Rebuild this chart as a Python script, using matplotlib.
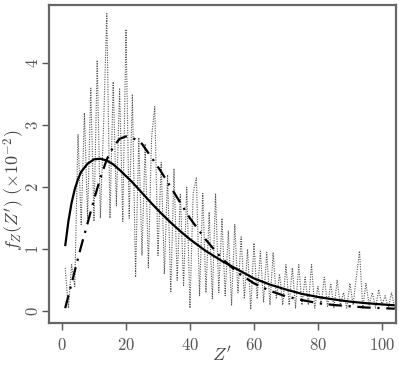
import matplotlib
matplotlib.use("Agg")
import matplotlib.pyplot as plt
from matplotlib.ticker import FuncFormatter

plt.rcParams['mathtext.fontset'] = 'cm'
plt.rcParams['font.family'] = ['DejaVu Serif']

# Empirical (noisy) distribution
emp_z = list(range(1, 105))
emp_f = [0.7, 0.05, 0.75, 0.4, 2.85, 1.4, 3.2, 1.5, 3.6, 1.45,
         4.05, 1.5, 3.0, 4.8, 1.5, 3.7, 1.7, 3.6, 1.45, 4.55,
         1.5, 3.5, 0.55, 2.8, 0.9, 2.7, 0.7, 2.8, 3.3, 0.9,
         2.4, 0.6, 2.2, 0.3, 2.3, 0.5, 1.9, 0.4, 2.0, 0.05,
         1.9, 2.15, 0.25, 1.9, 0.3, 1.6, 0.2, 1.9, 0.3, 1.5,
         0.25, 1.3, 0.1, 1.4, 0.3, 1.2, 0.2, 1.0, 0.03, 1.1,
         0.2, 0.97, 0.15, 0.95, 0.1, 0.95, 0.2, 0.6, 0.1, 0.75,
         0.1, 0.7, 0.05, 0.75, 0.1, 0.55, 0.1, 0.75, 0.05, 0.4,
         0.1, 0.55, 0.08, 0.45, 0.05, 0.5, 0.1, 0.3, 0.05, 0.45,
         0.1, 0.55, 0.97, 0.05, 0.45, 0.1, 0.3, 0.05, 0.35, 0.1,
         0.25, 0.05, 0.3, 0.05]

# Fitted curves
fit_z = [1, 2, 3, 4, 5, 6, 8, 10, 12, 14, 16, 18, 20, 22, 25, 28, 31, 34, 37, 40,
         45, 50, 55, 60, 65, 70, 75, 80, 85, 90, 95, 100, 104]
fit_solid = [1.05, 1.45, 1.75, 1.97, 2.13, 2.25, 2.38, 2.45, 2.46, 2.43, 2.37, 2.28,
             2.18, 2.08, 1.91, 1.74, 1.58, 1.43, 1.29, 1.16, 0.97, 0.81, 0.67, 0.53,
             0.43, 0.35, 0.28, 0.23, 0.19, 0.155, 0.13, 0.11, 0.095]
fit_dashdot = [0.05, 0.25, 0.45, 0.65, 0.85, 1.05, 1.42, 1.8, 2.15, 2.45, 2.65, 2.78,
               2.82, 2.8, 2.7, 2.48, 2.25, 2.0, 1.75, 1.5, 1.15, 0.85, 0.62, 0.45,
               0.33, 0.24, 0.18, 0.13, 0.1, 0.08, 0.06, 0.05, 0.04]

xticks = [0, 20, 40, 60, 80, 100]
yticks = [0, 1, 2, 3, 4]

fig = plt.figure(figsize=(3.99, 3.65), dpi=100)
ax = fig.add_axes([49/399, 1-323/365, (396-49)/399, (323-5)/365])

ax.plot(emp_z, emp_f, color='#555555', lw=0.8, linestyle=(0, (1, 1.2)))
ax.plot(fit_z, fit_solid, color='black', lw=1.6, solid_capstyle='butt')
ax.plot(fit_z, fit_dashdot, color='black', lw=1.6, linestyle=(0, (6, 3, 1, 3)))

ax.set_xlim(-4.06, 104.4)
ax.set_ylim(-0.19, 4.94)
ax.set_xticks(xticks)
ax.set_yticks(yticks)
fmt = FuncFormatter(lambda v, p: r'$%d$' % v)
ax.xaxis.set_major_formatter(fmt)
ax.yaxis.set_major_formatter(fmt)
ax.tick_params(direction='out', length=5, width=1, color='#555555',
               labelcolor='#555555', labelsize=12)
ax.tick_params(axis='x', pad=5)
ax.tick_params(axis='y', pad=0)
for lab in ax.get_yticklabels():
    lab.set_rotation(90)
    lab.set_va('center')
for s in ax.spines.values():
    s.set_color('#666666')
    s.set_linewidth(1.6)

fig.text(222/399, 1-355/365, r"$Z'$", fontsize=13, color='#444444',
         ha='center', va='center')
fig.text(14/399, 1-190/365, r"$f_Z(Z')\ (\times 10^{-2})$", fontsize=13,
         color='#444444', ha='center', va='center', rotation=90)

fig.savefig('out.png', dpi=100)
